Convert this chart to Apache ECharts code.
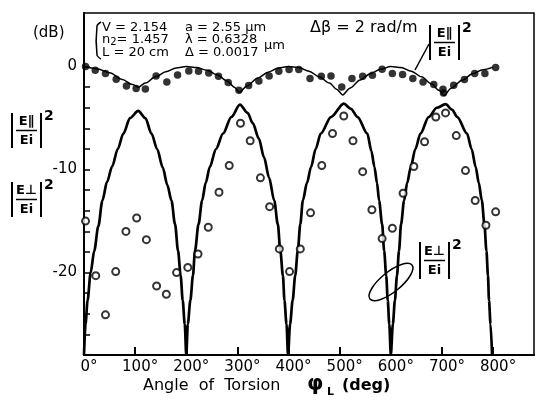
<!DOCTYPE html>
<html>
<head>
<meta charset="utf-8">
<script src="https://cdn.jsdelivr.net/npm/echarts@6/dist/echarts.min.js"></script>
<style>
    html, body { margin: 0; padding: 0; background: #fff; }
    #chart { width: 536px; height: 402px; }
</style>
</head>
<body>
<div id="chart"></div>
<script>
// axis ticks
const xTicks = [0, 100, 200, 300, 400, 500, 600, 700, 800]
const yTicks = [-26, -24, -22, -20, -18, -16, -14, -12, -10, -8, -6, -4, -2, 0]
const yLabels = [-20, -10, 0]

// measured |E∥/Ei|^2 (filled dots)
const paraDeg = [3, 22, 42, 63, 83, 102, 120, 141, 162, 183, 205, 224, 244, 263, 282, 303, 322, 342, 362, 381,
    401, 420, 442, 464, 483, 504, 524, 545, 564, 583, 603, 623, 643, 663, 684, 702, 703, 723, 744, 764, 784, 805]
const paraDb = [0.0, -0.36, -0.68, -1.23, -1.88, -2.14, -2.17, -0.91, -1.5, -0.82, -0.43, -0.46, -0.62, -0.94, -1.55, -2.3, -1.84, -1.4, -0.91, -0.46,
    -0.29, -0.29, -1.17, -0.94, -0.91, -1.98, -1.17, -0.94, -0.84, -0.26, -0.68, -0.78, -1.17, -1.5, -1.75, -2.2, -2.56, -1.82, -1.26, -0.68, -0.68, -0.1]

// measured |E⊥/Ei|^2 (open circles)
const perpDeg = [3, 23, 42, 62, 82, 103, 122, 142, 161, 181, 203, 223, 243, 264, 284, 306, 325, 345, 363, 382,
    402, 423, 443, 465, 486, 508, 526, 545, 563, 583, 603, 624, 645, 666, 688, 707, 728, 746, 765, 786, 805]
const perpDb = [-15.0, -20.3, -24.1, -19.9, -16.0, -14.7, -16.8, -21.3, -22.1, -20.0, -19.5, -18.2, -15.6, -12.2, -9.6, -5.5, -7.2, -10.8, -13.6, -17.7,
    -19.9, -17.7, -14.2, -9.6, -6.5, -4.8, -7.2, -10.2, -13.9, -16.7, -15.7, -12.3, -9.7, -7.3, -4.9, -4.5, -6.7, -10.1, -13.0, -15.4, -14.1]

// theory curves [deg, dB]
const paraCurve = [[0, 0], [25, -0.2], [50, -0.6], [75, -1.25], [95, -1.75], [106, -2.0], [120, -1.6], [140, -1.0], [160, -0.5], [180, -0.15],
    [200, 0], [220, -0.1], [240, -0.35], [260, -0.8], [280, -1.4], [294, -2.0], [304, -2.5], [318, -1.9], [340, -1.1], [360, -0.55], [380, -0.15],
    [400, 0], [420, -0.1], [440, -0.45], [460, -1.0], [480, -1.6], [494, -2.2], [506, -2.75], [520, -2.1], [540, -1.3], [560, -0.7], [580, -0.25],
    [600, 0], [620, -0.1], [640, -0.45], [660, -1.0], [680, -1.7], [694, -2.3], [704, -2.8], [718, -2.1], [740, -1.3], [760, -0.7], [780, -0.3], [800, -0.05]]
const perpCurve = [
    [0, -28], [3, -25], [7, -22.7], [13, -20], [20, -17.9], [28, -15.5], [36, -13], [45, -11.2], [55, -9.7], [66, -8], [77, -6.5], [90, -5],
    [106, -4.3], [120, -5], [132, -6.5], [143, -8], [154, -9.8], [163, -11.5], [171, -13], [178, -15.3], [184, -17.9], [189, -20.3], [193, -22.7], [197, -25],
    [200, -28], [203, -25], [208, -22.7], [213, -20.3], [217, -17.9], [224, -15.3], [231, -13], [238, -11.3], [246, -9.75], [258, -8], [272, -6.5], [288, -4.9],
    [305, -3.7], [320, -4.5], [330, -5.5], [342, -7], [352, -8.8], [362, -10.8], [372, -13], [379, -15.3], [384, -17.9], [389, -20.3], [392, -22.7], [396, -25],
    [399, -28], [403, -25], [408, -22.7], [413, -20.3], [418, -17.9], [423, -15.3], [428, -13], [436, -11.3], [444, -9.75], [453, -8], [463, -6.5], [483, -4.9],
    [508, -3.6], [522, -4.1], [535, -4.9], [554, -6.5], [562, -8.2], [568, -9.75], [573, -11.3], [577, -13], [583, -15.3], [587, -17.9], [591, -20.3], [594, -22.7], [597, -25],
    [600, -28], [604, -25], [608, -22.7], [612, -20.3], [616, -17.9], [620, -15.3], [626, -13], [632, -11.3], [639, -9.75], [648, -8], [658, -6.5], [674, -4.9], [690, -4],
    [707, -3.65], [720, -4.2], [730, -4.9], [749, -6.5], [758, -8], [766, -9.75], [772, -11.3], [778, -13], [783, -15.3], [787, -17.9], [790, -20.3], [792, -22.7], [795, -25],
    [798, -28]]

const FONT = "DejaVu Sans"
const zip = (xs, ys) => xs.map((x, i) => [x, ys[i]])

// |E/Ei|^2 label drawn as a fraction between bars
function fracLabel(x, y, sym, h) {
    h = h || 35
    const w = 29
    const ln = { stroke: "#000", lineWidth: 2 }
    return {
        type: "group", x, y,
        children: [
            { type: "line", shape: { x1: 0, y1: 0, x2: 0, y2: h }, style: ln },
            { type: "line", shape: { x1: w, y1: 0, x2: w, y2: h }, style: ln },
            { type: "line", shape: { x1: 4, y1: h / 2, x2: w - 4, y2: h / 2 }, style: { stroke: "#000", lineWidth: 1.5 } },
            { type: "text", x: w / 2, y: h / 4, style: { text: "E" + sym, font: `bold 13px ${FONT}`, fill: "#000", align: "center", verticalAlign: "middle" } },
            { type: "text", x: w / 2, y: h * 3 / 4 + 1, style: { text: "Ei", font: `bold 13px ${FONT}`, fill: "#000", align: "center", verticalAlign: "middle" } },
            { type: "text", x: w + 3, y: -4, style: { text: "2", font: `bold 14px ${FONT}`, fill: "#000", align: "left", verticalAlign: "top" } },
        ],
    }
}

function txt(x, y, text, font, align) {
    return { type: "text", x, y, style: { text, font, fill: "#000", align: align || "left", verticalAlign: "middle" } }
}

const chart = echarts.init(document.getElementById("chart"), null, { renderer: "canvas" })
const small = `13px ${FONT}`

const option = {
    animation: false,
    backgroundColor: "#fff",
    grid: { left: 84, right: 2, top: 13, bottom: 47, show: true, borderColor: "#000", borderWidth: 1.5 },
    xAxis: {
        type: "value", min: 0, max: 880, interval: 100,
        axisLine: { onZero: false, lineStyle: { color: "#000", width: 2 } },
        axisTick: { inside: true, length: 8, customValues: xTicks, lineStyle: { color: "#000", width: 2 } },
        axisLabel: {
            customValues: xTicks, formatter: (v) => v + "°",
            color: "#000", fontSize: 15, fontFamily: FONT, margin: 5, padding: [0, 0, 0, 10],
        },
        splitLine: { show: false },
    },
    yAxis: {
        type: "value", min: -28, max: 5.2, interval: 2,
        axisLine: { onZero: false, lineStyle: { color: "#000", width: 2 } },
        axisTick: { inside: true, length: 6, customValues: yTicks, lineStyle: { color: "#000", width: 1.5 } },
        axisLabel: {
            customValues: yLabels, formatter: (v) => String(v),
            color: "#000", fontSize: 15, fontFamily: FONT, margin: 7,
        },
        splitLine: { show: false },
    },
    series: [
        {
            type: "line", data: perpCurve, showSymbol: false, smooth: 0.3, smoothMonotone: "x",
            lineStyle: { color: "#000", width: 2.7 }, z: 2,
        },
        {
            type: "line", data: paraCurve, showSymbol: false, smooth: 0.3, smoothMonotone: "x",
            lineStyle: { color: "#000", width: 1.5 }, z: 2,
        },
        {
            type: "scatter", data: zip(paraDeg, paraDb), symbol: "circle", symbolSize: 7.5,
            itemStyle: { color: "#000" }, z: 3,
        },
        {
            type: "scatter", data: zip(perpDeg, perpDb), symbol: "circle", symbolSize: 7,
            itemStyle: { color: "#fff", borderColor: "#000", borderWidth: 2 }, z: 3,
        },
    ],
    graphic: {
        elements: [
            txt(33, 33, "(dB)", `15px ${FONT}`),
            // parameter block
            {
                type: "polyline", shape: { points: [[101, 22], [97, 26], [97, 55], [101, 59]], smooth: 0.3 },
                style: { stroke: "#000", lineWidth: 1.5, fill: null },
            },
            txt(102, 27.5, "V = 2.154", small),
            {
                type: "text", x: 102, y: 39.5,
                style: {
                    text: "n{s|2}= 1.457", font: small, fill: "#000", verticalAlign: "middle",
                    rich: { s: { fontSize: 10, fontFamily: FONT, padding: [6, 0, 0, 0] } },
                },
            },
            txt(102, 53, "L = 20 cm", small),
            txt(185, 27.5, "a = 2.55 μm", small),
            txt(185, 39.5, "λ = 0.6328", small),
            txt(264, 46, "μm", small),
            txt(185, 53, "Δ = 0.0017", small),
            txt(310, 28, "Δβ = 2 rad/m", `16px ${FONT}`),
            fracLabel(430, 25, "∥"),
            { type: "line", shape: { x1: 415, y1: 70, x2: 429, y2: 44 }, style: { stroke: "#000", lineWidth: 1.5 } },
            // left labels
            fracLabel(12, 113, "∥"),
            fracLabel(12, 182, "⊥"),
            // in-plot label with loop
            fracLabel(420, 242, "⊥", 37),
            {
                type: "group", x: 391, y: 282, rotation: 0.68,
                children: [{ type: "ellipse", shape: { cx: 0, cy: 0, rx: 27, ry: 10 }, style: { stroke: "#000", lineWidth: 1.5, fill: null } }],
            },
            // x axis title
            txt(143, 386, "Angle  of  Torsion", `16px ${FONT}`),
            txt(307, 385, "φ", `bold 21px ${FONT}`),
            txt(327, 392, "L", `bold 11px ${FONT}`),
            txt(342, 386, "(deg)", `bold 16px ${FONT}`),
        ],
    },
}
chart.setOption(option)
</script>
</body>
</html>
